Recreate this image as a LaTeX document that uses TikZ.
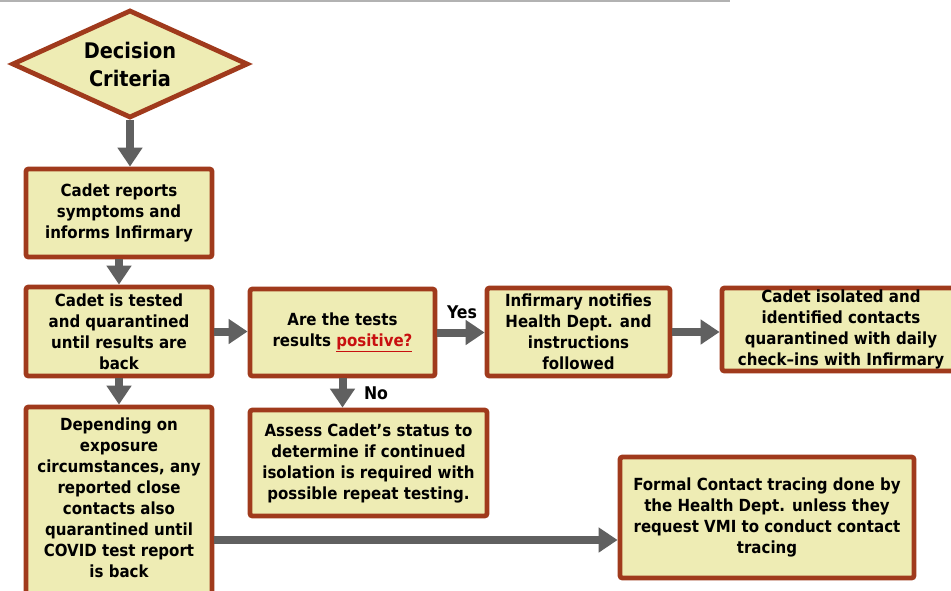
\documentclass[tikz,border=0pt]{standalone}
\usepackage{fontspec}
\setmainfont{DejaVu Sans Condensed}
\usetikzlibrary{arrows.meta,shapes.geometric}
\definecolor{boxred}{RGB}{160,58,28}
\definecolor{boxfill}{RGB}{238,236,180}
\definecolor{arrowgray}{RGB}{96,96,96}
\definecolor{posred}{RGB}{200,16,16}
\begin{document}
\begin{tikzpicture}[x=1pt,y=-1pt,
  box/.style={draw=boxred, fill=boxfill, line width=4.8pt, rounded corners=2.5pt,
    align=center, inner sep=0pt, font=\bfseries\fontsize{16.7}{21}\selectfont},
  flow/.style={draw=arrowgray, line width=8pt, -{Triangle[length=19pt,width=24pt]}},
  lab/.style={font=\bfseries\fontsize{17.5}{20}\selectfont}]
\useasboundingbox (0,0) rectangle (951,590);
\clip (0,0) rectangle (951,590);
\fill[white] (0,0) rectangle (951,590);
\draw[black!30, line width=1.5pt] (0,0.75) -- (730,0.75);

\node[diamond, aspect=2.14, draw=boxred, fill=boxfill, line width=4.8pt,
  minimum width=236, minimum height=108, inner sep=0pt, align=center,
  font=\bfseries\fontsize{21.5}{28}\selectfont] (dec) at (130,64) {Decision\\Criteria};

\node[box, minimum width=186, minimum height=88] (b1) at (119,213)
  {Cadet reports\\symptoms and\\informs Infirmary};
\node[box, minimum width=186, minimum height=89] (b2) at (119,331.5)
  {Cadet is tested\\and quarantined\\until results are\\back};
\node[box, minimum width=186, minimum height=191] (b3) at (119,502.5)
  {Depending on\\exposure\\circumstances, any\\reported close\\contacts also\\quarantined until\\COVID test report\\is back\\[-11pt]\mbox{}};
\node[box, minimum width=185, minimum height=87] (b4) at (342.5,332.5)
  {Are the tests\\results \textcolor{posred}{\underline{positive?}}};
\node[box, minimum width=183, minimum height=88] (b5) at (578.5,332)
  {Infirmary notifies\\Health Dept. and\\instructions\\followed};
\node[box, minimum width=238, minimum height=83] (b6) at (841,329.5)
  {Cadet isolated and\\identified contacts\\quarantined with daily\\check–ins with Infirmary};
\node[box, minimum width=237, minimum height=106] (b7) at (368.5,463)
  {Assess Cadet’s status to\\determine if continued\\isolation is required with\\possible repeat testing.};
\node[box, minimum width=294, minimum height=121] (b8) at (767,517.5)
  {Formal Contact tracing done by\\the Health Dept. unless they\\request VMI to conduct contact\\tracing};

\node[lab] (yes) at (462,312) {Yes};
\node[lab] (no) at (376,393) {No};

\coordinate (t8) at ([yshift=-22.5pt]b8.west);
\draw[flow] (dec.south) -- (dec.south |- b1.north);
\draw[flow] (b1.south) -- (b2.north);
\draw[flow] (b2.south) -- (b3.north);
\draw[flow] (b2.east) -- (b2.east -| b4.west);
\draw[flow] (b4.east) -- (b4.east -| b5.west);
\draw[flow] (b5.east) -- (b5.east -| b6.west);
\draw[flow] (b4.south) -- (b4.south |- b7.north);
\draw[flow] (b3.east |- t8) -- (t8);
\end{tikzpicture}
\end{document}
